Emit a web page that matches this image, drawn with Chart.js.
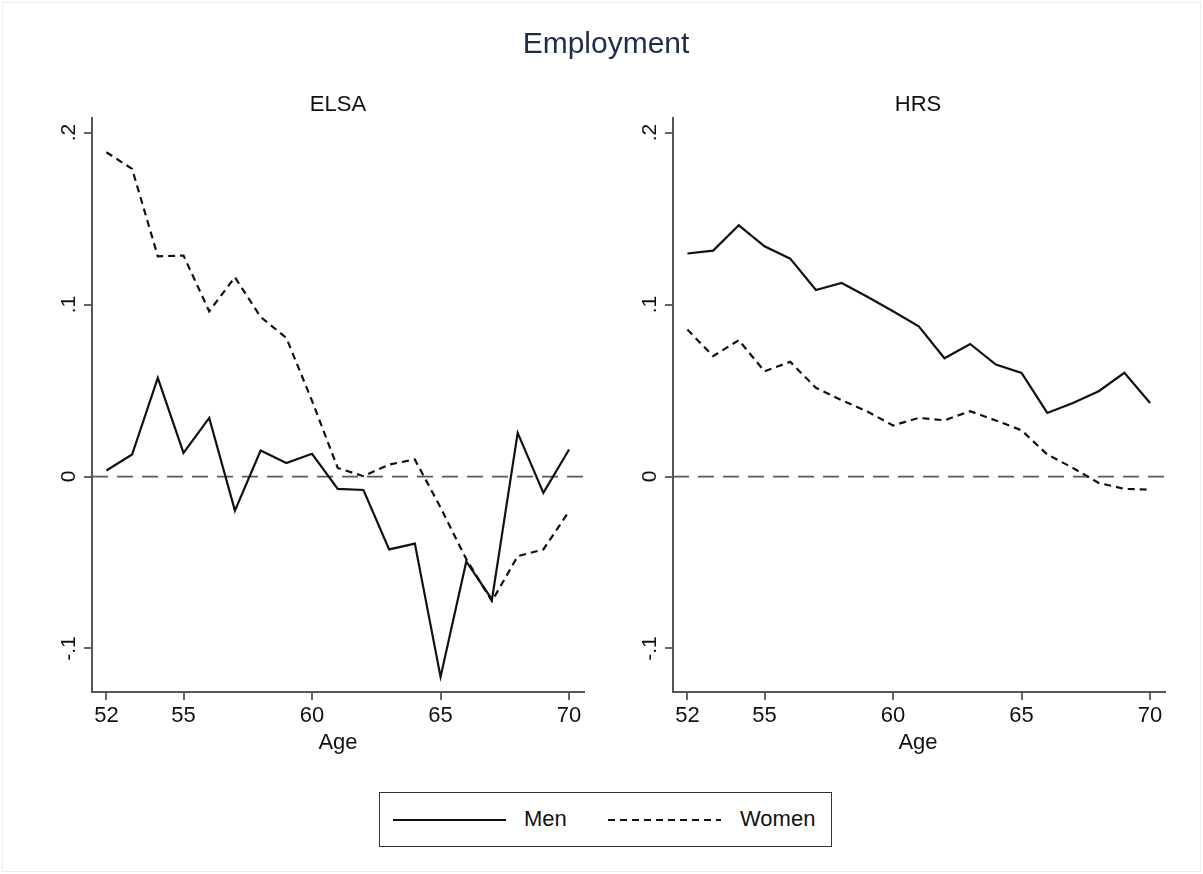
<!DOCTYPE html>
<html>
<head>
<meta charset="utf-8">
<script src="https://cdn.jsdelivr.net/npm/chart.js@4.4.1/dist/chart.umd.min.js"></script>
<style>
  html, body { margin: 0; padding: 0; background: #fff; }
  body { width: 1203px; height: 874px; position: relative; overflow: hidden;
         font-family: "Liberation Sans", Arial, sans-serif; color: #111; }
  .frame { position: absolute; left: 2px; top: 2px; width: 1197px; height: 868px;
           border: 1px solid #ececec; }
  canvas { position: absolute; top: 0; }
  .txt { position: absolute; white-space: nowrap; transform: translate(-50%, -50%); }
  #title { left: 606px; top: 43px; font-size: 30px; color: #1f2d4d; }
  .panel { top: 104px; font-size: 22px; }
  .axt { top: 742px; font-size: 22px; }
  #legend { position: absolute; left: 379px; top: 792px; width: 451px; height: 53px;
            border: 1.5px solid #333; background: #fff; }
  #legend svg { position: absolute; left: 0; top: 0; }
  #legend span { position: absolute; top: 13px; font-size: 22px; }
</style>
</head>
<body>
<div class="frame"></div>
<canvas id="elsa" width="600" height="770" style="left:0px"></canvas>
<canvas id="hrs" width="600" height="770" style="left:581px"></canvas>

<div id="title" class="txt">Employment</div>
<div class="txt panel" style="left:338px">ELSA</div>
<div class="txt panel" style="left:918px">HRS</div>
<div class="txt axt" style="left:338px">Age</div>
<div class="txt axt" style="left:918px">Age</div>

<div id="legend">
  <svg width="451" height="53">
    <line x1="13" y1="27" x2="126" y2="27" stroke="#111" stroke-width="2.2"/>
    <line x1="228" y1="27" x2="341" y2="27" stroke="#111" stroke-width="2.2" stroke-dasharray="7 5"/>
  </svg>
  <span style="left:144px">Men</span>
  <span style="left:360px">Women</span>
</div>

<script>
// Age grid shared by both panels
const ages = [52, 53, 54, 55, 56, 57, 58, 59, 60, 61, 62, 63, 64, 65, 66, 67, 68, 69, 70];

// ELSA (England)
const elsaMen   = [0.0035, 0.0128, 0.0574, 0.0138, 0.0341, -0.0198, 0.0151, 0.0079, 0.0132, -0.0072,
                   -0.0078, -0.0424, -0.0390, -0.1165, -0.0494, -0.0715, 0.0254, -0.0095, 0.0157];
const elsaWomen = [0.1886, 0.1789, 0.1281, 0.1285, 0.0961, 0.1159, 0.0928, 0.0806, 0.0440, 0.0050,
                   0.0002, 0.0070, 0.0099, -0.0180, -0.0480, -0.0725, -0.0463, -0.0424, -0.0202];

// HRS (United States)
const hrsMen    = [0.1297, 0.1314, 0.1461, 0.1339, 0.1267, 0.1085, 0.1126, 0.1045, 0.0961, 0.0874,
                   0.0688, 0.0771, 0.0651, 0.0603, 0.0370, 0.0428, 0.0496, 0.0603, 0.0428];
const hrsWomen  = [0.0855, 0.0700, 0.0793, 0.0612, 0.0667, 0.0516, 0.0444, 0.0378, 0.0297, 0.0341,
                   0.0327, 0.0380, 0.0326, 0.0269, 0.0128, 0.0050, -0.0037, -0.0072, -0.0076];

// Axis ticks
const xTicks = [52, 55, 60, 65, 70];
const yTicks = [-0.1, 0, 0.1, 0.2];
const yTickLabels = ['-.1', '0', '.1', '.2'];

const FONT = '"Liberation Sans", Arial, sans-serif';

// zero reference line + rotated y tick labels
const panelDecor = {
  id: 'panelDecor',
  beforeDatasetsDraw(chart) {
    const { ctx, chartArea, scales } = chart;
    const y0 = scales.y.getPixelForValue(0);
    ctx.save();
    ctx.strokeStyle = '#5a5a5a';
    ctx.lineWidth = 1.8;
    ctx.setLineDash([16, 9]);
    ctx.beginPath();
    ctx.moveTo(chartArea.left, y0);
    ctx.lineTo(chartArea.right, y0);
    ctx.stroke();
    ctx.restore();
  },
  afterDraw(chart) {
    const { ctx, scales, chartArea } = chart;
    ctx.save();
    ctx.fillStyle = '#111';
    ctx.font = '21px ' + FONT;
    ctx.textAlign = 'center';
    ctx.textBaseline = 'alphabetic';
    yTicks.forEach((v, i) => {
      const py = scales.y.getPixelForValue(v);
      ctx.save();
      ctx.translate(chartArea.left - 17, py);
      ctx.rotate(-Math.PI / 2);
      ctx.fillText(yTickLabels[i], 0, 0);
      ctx.restore();
    });
    ctx.restore();
  }
};

function toPoints(vals) {
  return ages.map((a, i) => ({ x: a, y: vals[i] }));
}

function makePanel(id, men, women) {
  return new Chart(document.getElementById(id), {
    type: 'line',
    data: {
      datasets: [
        { label: 'Men', data: toPoints(men), borderColor: '#111', borderWidth: 2.2,
          pointRadius: 0, tension: 0, fill: false },
        { label: 'Women', data: toPoints(women), borderColor: '#111', borderWidth: 2.2,
          borderDash: [7, 5], pointRadius: 0, tension: 0, fill: false }
      ]
    },
    options: {
      responsive: false,
      animation: false,
      devicePixelRatio: 1,
      layout: { padding: { top: 118, right: 16, bottom: 8, left: 0 } },
      plugins: { legend: { display: false }, tooltip: { enabled: false }, title: { display: false } },
      scales: {
        x: {
          type: 'linear', min: 51.44, max: 70.58,
          afterBuildTicks: s => { s.ticks = xTicks.map(v => ({ value: v })); },
          afterFit: s => { s.height = 70; },
          ticks: { color: '#111', font: { size: 22, family: FONT }, padding: 3,
                   maxRotation: 0, autoSkip: false, callback: v => String(v) },
          grid: { drawOnChartArea: false, drawTicks: true, tickLength: 8, color: '#666', lineWidth: 2 },
          border: { display: true, color: '#555', width: 2 }
        },
        y: {
          type: 'linear', min: -0.1253, max: 0.2085,
          afterBuildTicks: s => { s.ticks = yTicks.map(v => ({ value: v })); },
          afterFit: s => { s.width = 92; },
          ticks: { display: false },
          grid: { drawOnChartArea: false, drawTicks: true, tickLength: 8, color: '#666', lineWidth: 2 },
          border: { display: true, color: '#555', width: 2 }
        }
      }
    },
    plugins: [panelDecor]
  });
}

makePanel('elsa', elsaMen, elsaWomen);
makePanel('hrs', hrsMen, hrsWomen);
</script>
</body>
</html>
